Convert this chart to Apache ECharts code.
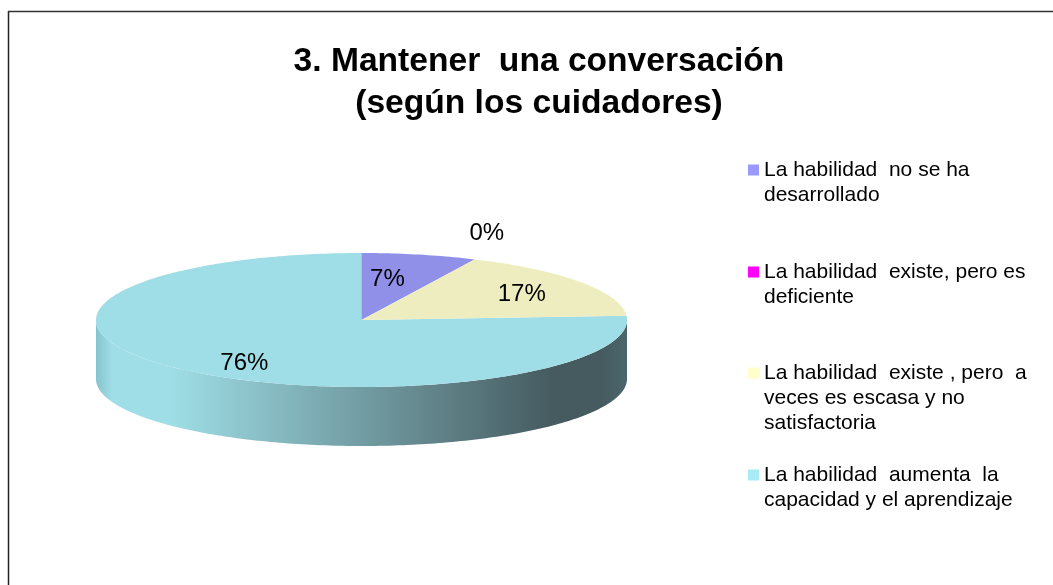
<!DOCTYPE html>
<html><head><meta charset="utf-8">
<style>html,body{margin:0;padding:0;background:#fff}#c{width:1053px;height:585px}</style>
<script src="https://cdn.jsdelivr.net/npm/echarts@6/dist/echarts.min.js"></script>
</head><body><div id="c"></div>
<script>
const titleText = "3. Mantener  una conversación\n(según los cuidadores)";
const categories = [
  "La habilidad  no se ha\ndesarrollado",
  "La habilidad  existe, pero es\ndeficiente",
  "La habilidad  existe , pero  a\nveces es escasa y no\nsatisfactoria",
  "La habilidad  aumenta  la\ncapacidad y el aprendizaje"
];
const values = [7, 0, 17, 76];
const sliceColors = ["#9090E8", "#FF00FF", "#EEEDBF", "#9FDEE6"];
const legendColors = ["#9999FF", "#FF00FF", "#FFFFCC", "#A8EBF5"];

const cx = 361.5, cy = 320, rx = 265.5, ry = 67, depth = 59;
const labelFactor = [[0.43,0.64],[1.10,1.45],[0.725,0.72],[0.65,0.86]];
const legendMarkerY = [170, 272, 373, 475];
const total = values.reduce((a,b)=>a+b,0);
const pt = (deg, dy) => [cx + rx*Math.sin(deg*Math.PI/180), cy - ry*Math.cos(deg*Math.PI/180) + (dy||0)];

function arc(a0, a1, dy){ const out=[]; const n=Math.max(2,Math.ceil((a1-a0)/1)); for(let k=0;k<=n;k++) out.push(pt(a0+(a1-a0)*k/n,dy)); return out; }

function makeRender(i){
  return function(params, api){
    const v = api.value(0);
    let before = 0; for(let k=0;k<i;k++) before += values[k];
    const a0 = before/total*360, a1 = (before+v)/total*360, mid=(a0+a1)/2;
    const children = [];
    const s0 = Math.max(a0,90), s1 = Math.min(a1,270);
    if (v>0 && s1>s0){
      const top = arc(s0,s1,0), bot = arc(s0,s1,depth).reverse();
      children.push({type:'polygon',shape:{points:top.concat(bot)},style:{
        fill:new echarts.graphic.LinearGradient(0,0,1,0,[
          {offset:0,color:'#86C4CD'},{offset:0.03,color:'#9FDEE6'},{offset:0.14,color:'#9FDEE6'},
          {offset:0.86,color:'#455B60'},{offset:0.95,color:'#455B60'},{offset:1,color:'#4B666C'}])}});
    }
    if (v>0){
      const pts=[[cx,cy]].concat(arc(a0,a1,0));
      children.push({type:'polygon',shape:{points:pts},style:{fill:sliceColors[i]},z2:5});
    }
    const f=labelFactor[i];
    children.push({type:'text',z2:10,style:{
      x:cx+rx*f[0]*Math.sin(mid*Math.PI/180)+1, y:cy-ry*f[1]*Math.cos(mid*Math.PI/180)+1,
      text:v+"%",fill:'#000',font:'24px "Liberation Sans"',align:'center',verticalAlign:'middle'}});
    return {type:'group',children};
  };
}

const option = {
  animation:false,
  backgroundColor:'#fff',
  title:{text:titleText,left:534,top:36,textAlign:'center',
    textStyle:{fontFamily:'Liberation Sans',fontSize:33.6,fontWeight:'bold',lineHeight:42,color:'#000'}},
  legend:categories.map((c,i)=>{
    const lines=c.split("\n").length;
    return {
      data:[{name:c,itemStyle:{color:legendColors[i],borderWidth:0}}],
      left:748, top:legendMarkerY[i]-(2*lines-1)*25/2, padding:0,
      icon:'rect',itemWidth:11,itemHeight:11,itemGap:5,selectedMode:false,
      formatter:n=>"\n".repeat(lines-1)+n,
      textStyle:{fontFamily:'Liberation Sans',fontSize:21,lineHeight:25,color:'#000'}
    };
  }),
  graphic:[
    {type:'line',shape:{x1:8.5,y1:11,x2:8.5,y2:585},style:{stroke:'#222',lineWidth:1.5}},
    {type:'line',shape:{x1:8,y1:11.5,x2:1053,y2:11.5},style:{stroke:'#333',lineWidth:1.5}}
  ],
  series:categories.map((c,i)=>({
    type:'custom',name:c,coordinateSystem:'none',
    itemStyle:{color:legendColors[i]},
    data:[[values[i]]],silent:true,
    renderItem:makeRender(i),z:i===3?2:3
  }))
};
echarts.init(document.getElementById('c'),null,{renderer:'canvas'}).setOption(option);
</script></body></html>
